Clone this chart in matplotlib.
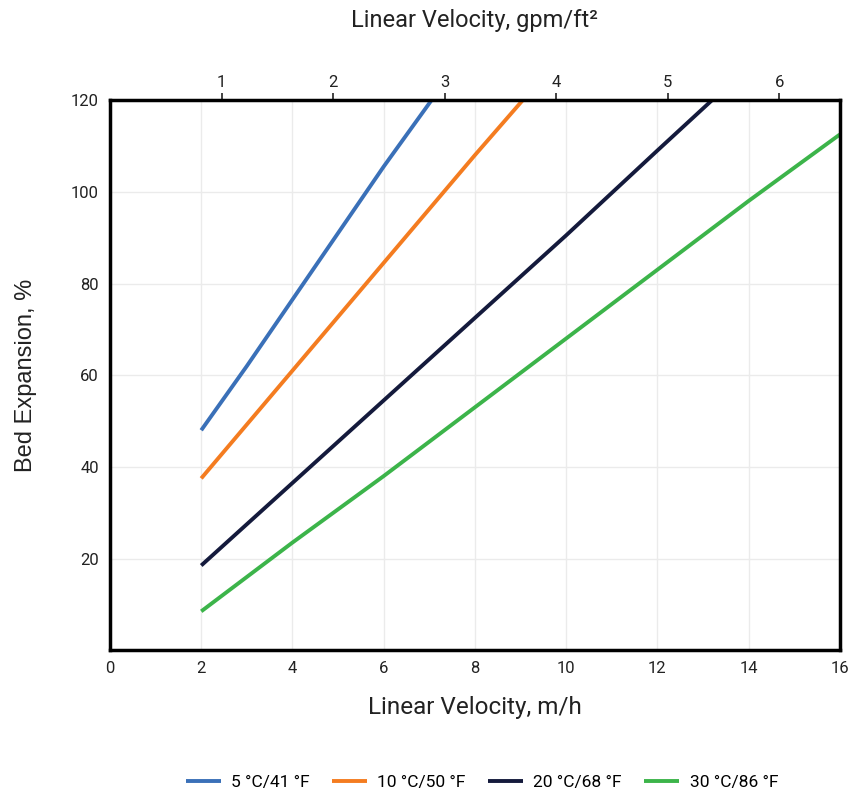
import numpy as np
import matplotlib
matplotlib.use("Agg")
import matplotlib.pyplot as plt

plt.rcParams['font.family'] = ['Roboto', 'DejaVu Sans']

# data (x: linear velocity m/h, y: bed expansion %)
labels = ['5 °C/41 °F', '10 °C/50 °F', '20 °C/68 °F', '30 °C/86 °F']
colors = ['#3a70b8', '#f47c20', '#141a3c', '#3cb44a']

x_5 = [2, 3, 4, 5, 6, 7.05]
y_5 = [48, 62, 76.5, 91, 105.5, 120]
x_10 = [2, 4, 6, 8, 9.05]
y_10 = [37.5, 61, 84.5, 108, 120]
x_20 = [2, 4, 6, 8, 10, 12, 13.2]
y_20 = [18.5, 36.5, 54.5, 72.5, 90.5, 109, 120]
x_30 = [2, 4, 6, 8, 10, 12, 14, 16]
y_30 = [8.5, 23.5, 38, 53, 68, 83, 98, 112.5]

GPM = 2.445  # m/h per gpm/ft2

fig = plt.figure(figsize=(8.56, 7.95), dpi=100)
ax = fig.add_axes([0.1285, 0.182, 0.8525, 0.692])

for xs, ys, c, lab in zip([x_5, x_10, x_20, x_30], [y_5, y_10, y_20, y_30], colors, labels):
    ax.plot(xs, ys, color=c, lw=2.8, label=lab, solid_capstyle='butt')

ax.set_xlim(0, 16)
ax.set_ylim(0, 120)
ax.set_xticks(range(0, 17, 2))
ax.set_yticks(range(20, 121, 20))
ax.grid(True, color='#ebebeb', lw=1)
ax.set_axisbelow(True)
ax.tick_params(axis='both', length=0, labelsize=12, colors='#222222', pad=8)
for s in ax.spines.values():
    s.set_linewidth(2.5)
    s.set_color('black')

ax.set_xlabel('Linear Velocity, m/h', fontsize=17.5, labelpad=14, color='#222222')
ax.set_ylabel('Bed Expansion, %', fontsize=17, color='#222222',
              family=['Liberation Sans', 'DejaVu Sans'])
ax.yaxis.set_label_coords(-0.1, 0.5)

top = ax.secondary_xaxis('top', functions=(lambda v: v / GPM, lambda v: v * GPM))
top.set_xticks(range(1, 7))
top.tick_params(length=5, width=1.2, labelsize=12, colors='#222222', pad=2)
top.spines['top'].set_visible(False)
top.set_xlabel('Linear Velocity, gpm/ft²', fontsize=17, labelpad=35, color='#222222')

fig.legend(loc='center', bbox_to_anchor=(0.563, 0.016), ncol=4, frameon=False,
           fontsize=12.5, handlelength=2.0, columnspacing=1.3, handletextpad=0.6)

fig.savefig('out.png', dpi=100)
